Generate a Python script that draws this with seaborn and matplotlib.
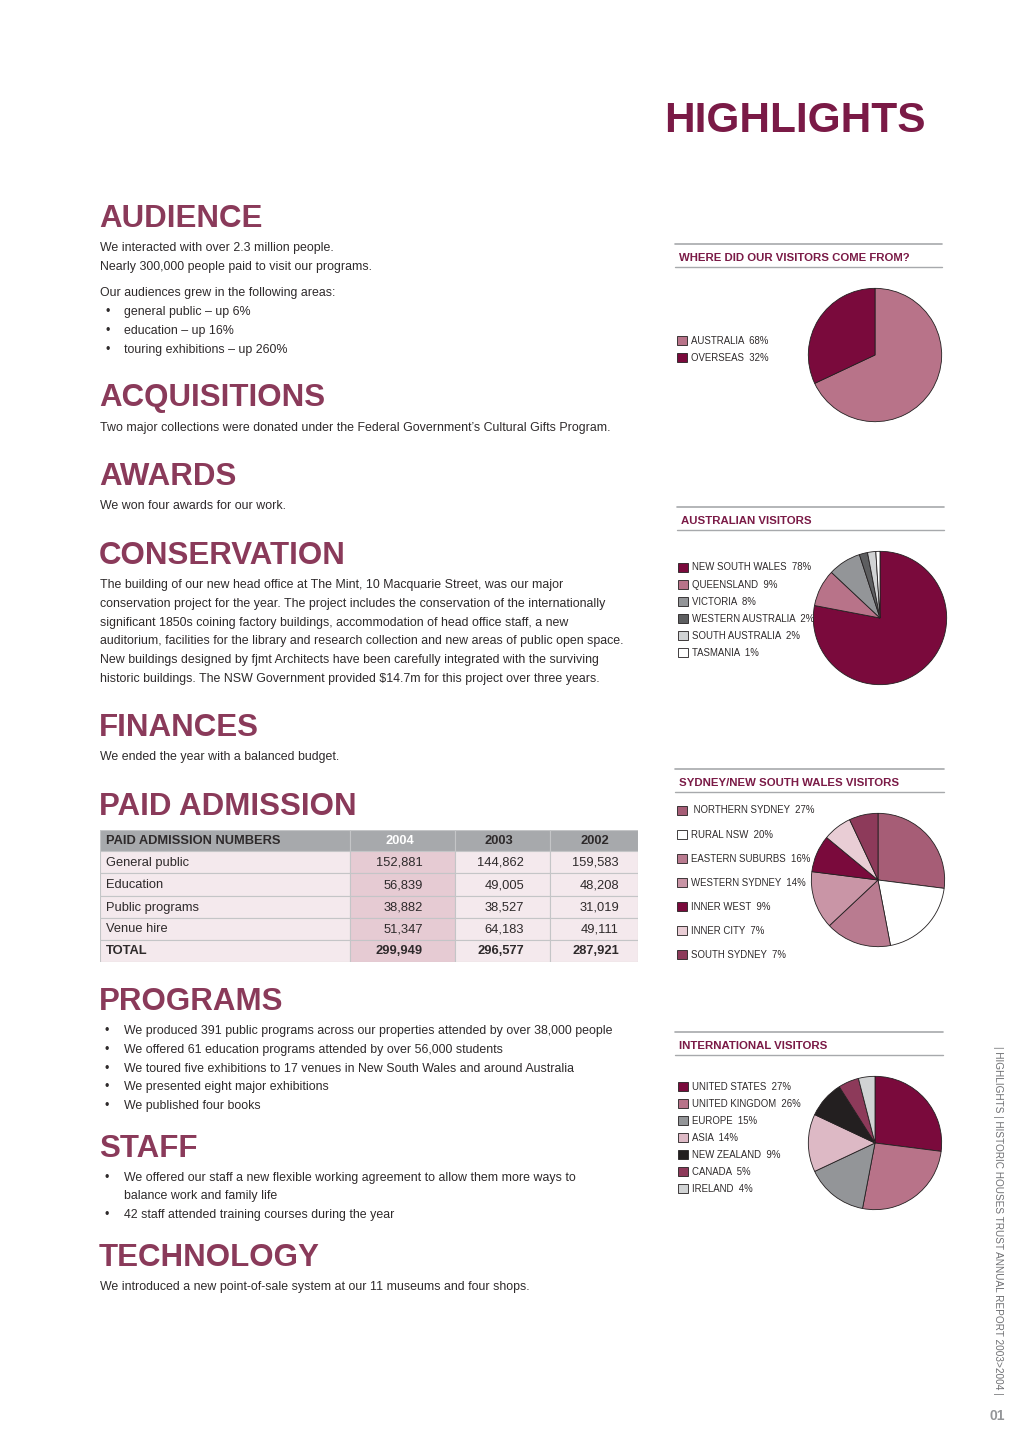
import matplotlib
matplotlib.use('Agg')
import matplotlib.pyplot as plt
import seaborn as sns

sns.set_style('white')
plt.rcParams['font.family'] = ['Liberation Sans', 'DejaVu Sans']

W, H = 1020, 1441

# ---- data ----
origin_labels = ['AUSTRALIA', 'OVERSEAS']
origin_pct = [68, 32]
origin_colors = ['#b87389', '#7a0a3c']

aus_labels = ['NEW SOUTH WALES', 'QUEENSLAND', 'VICTORIA', 'WESTERN AUSTRALIA', 'SOUTH AUSTRALIA', 'TASMANIA']
aus_pct = [78, 9, 8, 2, 2, 1]
aus_colors = ['#7a0a3c', '#b87389', '#939598', '#5d5e60', '#d1d3d4', '#ffffff']

nsw_labels = [' NORTHERN SYDNEY', 'RURAL NSW', 'EASTERN SUBURBS', 'WESTERN SYDNEY', 'INNER WEST', 'INNER CITY', 'SOUTH SYDNEY']
nsw_pct = [27, 20, 16, 14, 9, 7, 7]
nsw_colors = ['#a65d76', '#ffffff', '#b97b90', '#c995a6', '#7a0a3c', '#e9cdd5', '#8d3a5a']

intl_labels = ['UNITED STATES', 'UNITED KINGDOM', 'EUROPE', 'ASIA', 'NEW ZEALAND', 'CANADA', 'IRELAND']
intl_pct = [27, 26, 15, 14, 9, 5, 4]
intl_colors = ['#7a0a3c', '#b87389', '#939598', '#ddb9c5', '#231f20', '#8d3a5a', '#d1d3d4']

adm_rows = ['General public', 'Education', 'Public programs', 'Venue hire']
adm_years = ['2004', '2003', '2002']
adm_2004 = [152881, 56839, 38882, 51347]
adm_2003 = [144862, 49005, 38527, 64183]
adm_2002 = [159583, 48208, 31019, 49111]

audience_lines = ['We interacted with over 2.3 million people.',
                  'Nearly 300,000 people paid to visit our programs.']
audience_growth = ['general public \u2013 up 6%', 'education \u2013 up 16%', 'touring exhibitions \u2013 up 260%']
conservation_lines = [
    'The building of our new head office at The Mint, 10 Macquarie Street, was our major',
    'conservation project for the year. The project includes the conservation of the internationally',
    'significant 1850s coining factory buildings, accommodation of head office staff, a new',
    'auditorium, facilities for the library and research collection and new areas of public open space.',
    'New buildings designed by fjmt Architects have been carefully integrated with the surviving',
    'historic buildings. The NSW Government provided $14.7m for this project over three years.',
]
programs_lines = [
    'We produced 391 public programs across our properties attended by over 38,000 people',
    'We offered 61 education programs attended by over 56,000 students',
    'We toured five exhibitions to 17 venues in New South Wales and around Australia',
    'We presented eight major exhibitions',
    'We published four books',
]

HEAD = '#8a3a5a'
DARK = '#7a1a46'
TXT = '#2e2a2b'
RULE = '#a7a9ac'
BODY = 8.9
HEAD_SIZE = 22.5

fig = plt.figure(figsize=(W / 100, H / 100), dpi=100)


def fx(x):
    return x / W


def fy(y):
    return 1 - y / H


def txt(x, y, s, size=BODY, **kw):
    kw.setdefault('color', TXT)
    kw.setdefault('va', 'baseline')
    fig.text(fx(x), fy(y), s, fontsize=size, **kw)


def heading(y, s):
    txt(99, y, s, size=HEAD_SIZE, weight='bold', color=HEAD)


def bullets(y0, lines, step=18.8, bx=105):
    for i, s in enumerate(lines):
        txt(bx, y0 + i * step, '\u2022')
        txt(124, y0 + i * step, s)


# ---- page title ----
txt(926, 132, 'HIGHLIGHTS', size=30.5, weight='bold', color=DARK, ha='right')

# ---- left column ----
heading(227, 'AUDIENCE')
txt(100, 251, audience_lines[0])
txt(100, 270, audience_lines[1])
txt(100, 296, 'Our audiences grew in the following areas:')
bullets(315, audience_growth, bx=106)

heading(406, 'ACQUISITIONS')
txt(100, 431, 'Two major collections were donated under the Federal Government\u2019s Cultural Gifts Program.')

heading(485, 'AWARDS')
txt(100, 509, 'We won four awards for our work.')

heading(564, 'CONSERVATION')
for i, s in enumerate(conservation_lines):
    txt(100, 588 + i * 18.8, s)

heading(736, 'FINANCES')
txt(100, 760, 'We ended the year with a balanced budget.')

heading(815, 'PAID ADMISSION')

heading(1010, 'PROGRAMS')
bullets(1034, programs_lines)

heading(1157, 'STAFF')
txt(105, 1181, '\u2022')
txt(124, 1181, 'We offered our staff a new flexible working agreement to allow them more ways to')
txt(124, 1199, 'balance work and family life')
txt(105, 1218, '\u2022')
txt(124, 1218, '42 staff attended training courses during the year')

heading(1266, 'TECHNOLOGY')
txt(100, 1290, 'We introduced a new point-of-sale system at our 11 museums and four shops.')

# ---- admission table ----
tx0, tx1, ty0, ty1 = 100, 638, 830, 962
tax = fig.add_axes([fx(tx0), fy(ty1), (tx1 - tx0) / W, (ty1 - ty0) / H])
row_edges = [830, 851, 873, 896, 918, 940, 962]
col_edges = [100, 350, 455, 550, 638]
n_rows = len(row_edges) - 1
centers = [(row_edges[i] + row_edges[i + 1]) / 2 for i in range(n_rows)]
heights = [row_edges[i + 1] - row_edges[i] for i in range(n_rows)]
for c in range(4):
    left = col_edges[c]
    width = col_edges[c + 1] - col_edges[c]
    colors = ['#a7a9ac'] + [('#e6cbd3' if c == 1 else '#f4e9ed')] * (n_rows - 1)
    tax.barh(centers, [width] * n_rows, height=heights, left=left, color=colors,
             edgecolor='#c4c5c7', linewidth=0.8)
tax.set_xlim(tx0, tx1)
tax.set_ylim(ty1, ty0)
tax.axis('off')

body = [adm_2004, adm_2003, adm_2002]
totals = [sum(v) for v in body]
num_right = [423, 524, 619]
hdr_center = [400, 499, 595]
TB = 9.3
tax.text(106, centers[0] + 0.5, 'PAID ADMISSION NUMBERS', fontsize=TB, weight='bold', color=TXT, va='center')
for j, yr in enumerate(adm_years):
    tax.text(hdr_center[j], centers[0] + 0.5, yr, fontsize=TB, weight='bold',
             color='white' if j == 0 else TXT, ha='center', va='center')
for i, name in enumerate(adm_rows):
    tax.text(106, centers[i + 1] + 0.5, name, fontsize=TB, color=TXT, va='center')
    for j in range(3):
        tax.text(num_right[j], centers[i + 1] + 0.5, f'{body[j][i]:,}', fontsize=TB, color=TXT,
                 ha='right', va='center')
tax.text(106, centers[-1] + 0.5, 'TOTAL', fontsize=TB, weight='bold', color=TXT, va='center')
for j in range(3):
    tax.text(num_right[j], centers[-1] + 0.5, f'{totals[j]:,}', fontsize=TB, weight='bold', color=TXT,
             ha='right', va='center')


# ---- right column pies ----
def panel(title, lx0, lx1, ytop, labels, pct, colors, cx, cy, r, leg_x, leg_y, leg_space):
    fig.add_artist(plt.Line2D([fx(lx0), fx(lx1)], [fy(ytop), fy(ytop)], color=RULE, lw=1.2))
    fig.add_artist(plt.Line2D([fx(lx0), fx(lx1)], [fy(ytop + 23), fy(ytop + 23)], color=RULE, lw=1.0))
    txt(lx0 + 4, ytop + 17, title, size=8.2, weight='bold', color=DARK)
    ax = fig.add_axes([fx(cx - r), fy(cy + r), 2 * r / W, 2 * r / H])
    wedges, _ = ax.pie(pct, colors=colors, startangle=90, counterclock=False,
                       wedgeprops=dict(edgecolor='#231f20', linewidth=0.6))
    ax.set_xlim(-1.02, 1.02)
    ax.set_ylim(-1.02, 1.02)
    ax.set_aspect('equal')
    leg_labels = [f'{l}  {p}%' for l, p in zip(labels, pct)]
    ax.legend(wedges, leg_labels, loc='upper left', bbox_to_anchor=(fx(leg_x), fy(leg_y)),
              bbox_transform=fig.transFigure, frameon=False, fontsize=6.9,
              handlelength=1.0, handleheight=1.0, handletextpad=0.45,
              labelspacing=leg_space, borderpad=0, borderaxespad=0, labelcolor=TXT)


panel('WHERE DID OUR VISITORS COME FROM?', 675, 942, 244, origin_labels, origin_pct, origin_colors,
      875, 355, 68, 677, 335.5, 0.76)
panel('AUSTRALIAN VISITORS', 677, 944, 507, aus_labels, aus_pct, aus_colors,
      880, 618, 68, 678, 562.5, 0.74)
panel('SYDNEY/NEW SOUTH WALES VISITORS', 675, 944, 769, nsw_labels, nsw_pct, nsw_colors,
      878, 880, 68, 677, 805.5, 1.47)
panel('INTERNATIONAL VISITORS', 675, 943, 1032, intl_labels, intl_pct, intl_colors,
      875, 1143, 68, 678, 1081.5, 0.74)

# ---- side strip ----
fig.text(fx(998), fy(1220), '| HIGHLIGHTS | HISTORIC HOUSES TRUST ANNUAL REPORT 2003>2004 |',
         rotation=-90, fontsize=7.2, color='#6d6e71', ha='center', va='center')
fig.text(fx(997), fy(1416), '01', fontsize=10, weight='bold', color='#939598', ha='center', va='center')

fig.savefig('out.png', dpi=100, facecolor='white')
